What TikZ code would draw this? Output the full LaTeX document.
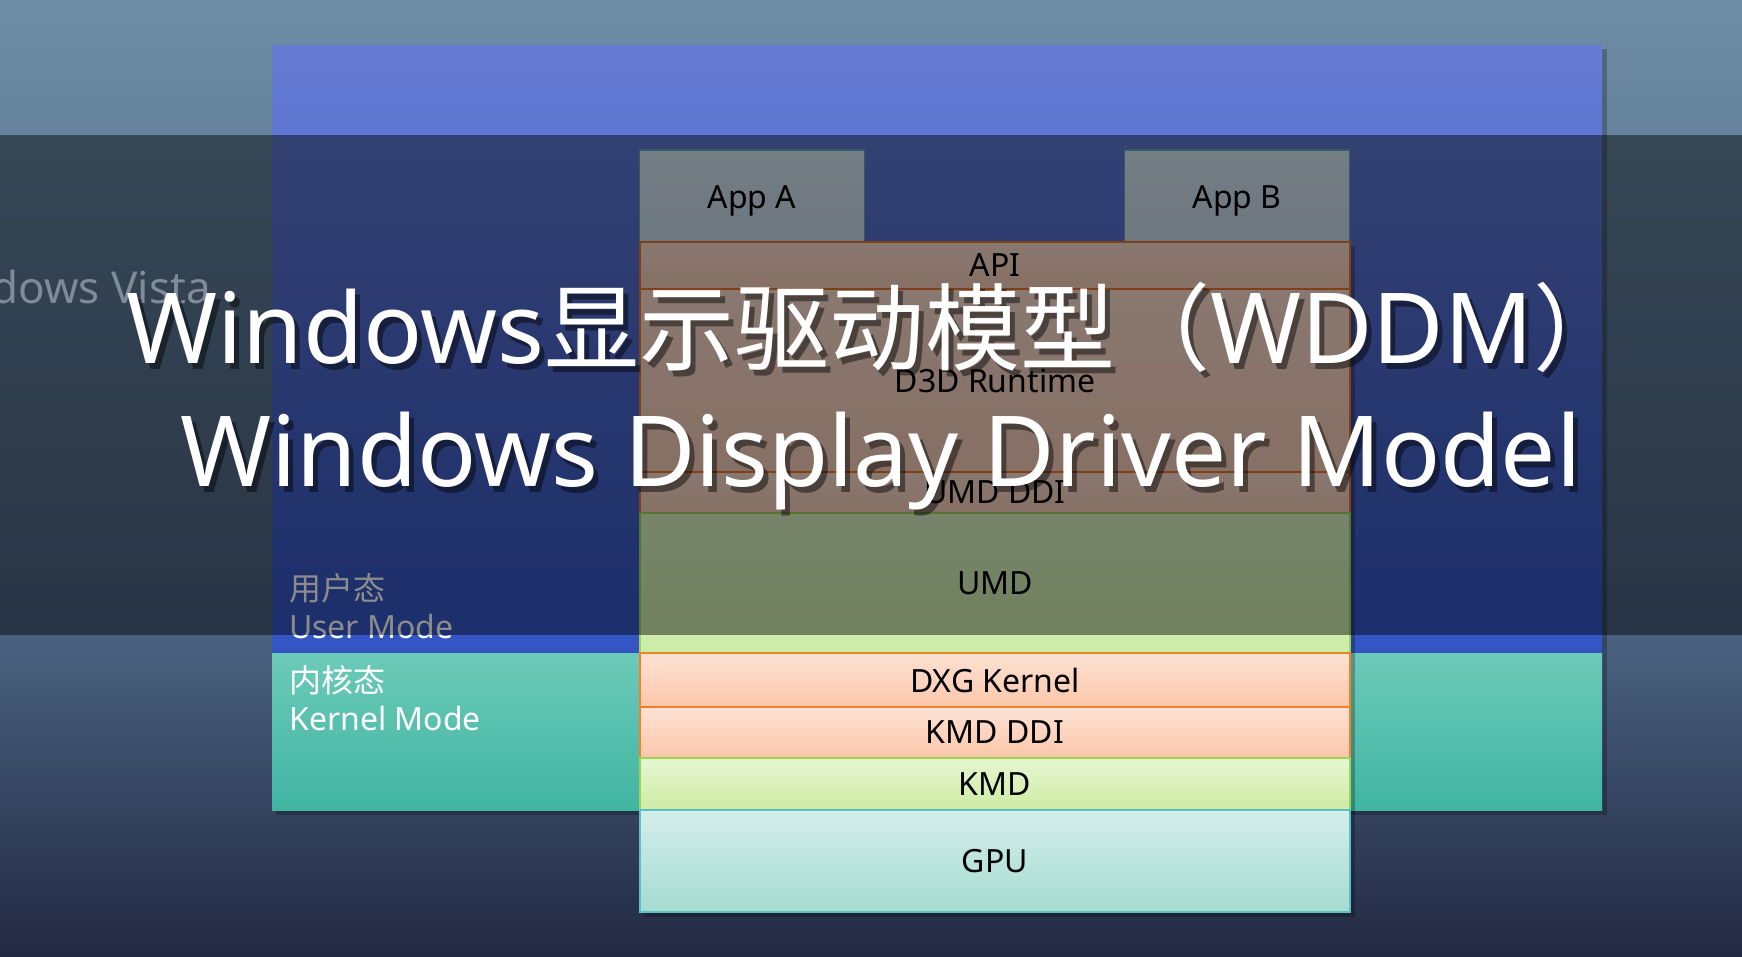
\documentclass[tikz,border=0pt]{standalone}
\usepackage{fontspec}
\setmainfont{Noto Sans}
\newfontfamily\cjk{Noto Sans CJK SC}
\newfontfamily\cjktitle[Scale=0.97]{Noto Sans CJK SC}
\usetikzlibrary{positioning}

\definecolor{bgtop}{HTML}{6E8CA6}
\definecolor{bgmid}{HTML}{48607E}
\definecolor{bgbot}{HTML}{232942}
\definecolor{usertop}{HTML}{667CD4}
\definecolor{userbot}{HTML}{3355C4}
\definecolor{kerntop}{HTML}{6CCAB8}
\definecolor{kernbot}{HTML}{40B5A2}
\definecolor{apptop}{HTML}{D6E6F2}
\definecolor{appbot}{HTML}{C6DAEA}
\definecolor{appline}{HTML}{5AA6C4}
\definecolor{peachtop}{HTML}{FADCCE}
\definecolor{peachbot}{HTML}{F6CCB8}
\definecolor{peachline}{HTML}{E8762A}
\definecolor{orangetop}{HTML}{FDE2D4}
\definecolor{orangebot}{HTML}{FCC6AA}
\definecolor{orangeline}{HTML}{F28224}
\definecolor{limetop}{HTML}{E6F6D2}
\definecolor{limebot}{HTML}{CEEBA2}
\definecolor{limeline}{HTML}{9CD456}
\definecolor{umdtop}{HTML}{DAF2C2}
\definecolor{umdbot}{HTML}{CCECA8}
\definecolor{gputop}{HTML}{D4EEEA}
\definecolor{gpubot}{HTML}{A4DCD0}
\definecolor{gpuline}{HTML}{5CC0C8}
\definecolor{vistagrey}{HTML}{7F8B97}

\pgfdeclareverticalshading{bgshade}{100bp}{color(0bp)=(bgbot); color(25bp)=(bgbot); color(41bp)=(bgmid); color(75bp)=(bgtop); color(100bp)=(bgtop)}

\newcommand{\boxfont}{\fontsize{32}{38}\selectfont}
\newcommand{\modefont}{\fontsize{32}{38}\selectfont}
\newcommand{\titlefont}{\fontsize{98}{112}\selectfont}

\begin{document}
\begin{tikzpicture}[
  x=1pt, y=-1pt,
  layer/.style={draw, line width=1.5pt, minimum width=710pt, inner sep=0pt,
                outer sep=0pt, font=\boxfont, text=black},
  appbox/.style={layer, draw=appline, top color=apptop, bottom color=appbot,
                 minimum width=225pt, minimum height=92pt,
                 text height=33pt, text depth=8pt},
  peach/.style={layer, draw=peachline, top color=peachtop, bottom color=peachbot},
  umdbox/.style={layer, draw=limeline, top color=umdtop, bottom color=umdbot},
  kern/.style={layer, draw=orangeline, line width=2.5pt, top color=orangetop,
               bottom color=orangebot},
  lime/.style={layer, draw=limeline, line width=2pt, top color=limetop,
               bottom color=limebot},
  gpubox/.style={layer, draw=gpuline, top color=gputop, bottom color=gpubot},
  mode/.style={font=\modefont, align=left, anchor=base west, inner sep=0pt},
  title/.style={font=\titlefont, anchor=base west, inner sep=0pt, text=white},
  tshadow/.style={title, text=black, opacity=.45}
]
\useasboundingbox (0,0) rectangle (1742,956);
\clip (0,0) rectangle (1742,956);

% backdrop
\shade[shading=bgshade] (0,0) rectangle (1742,956);

% user / kernel panel
\fill[black, opacity=.25] (276,49) rectangle (1607,815);
\shade[top color=usertop, bottom color=userbot] (272,45) rectangle (1602,653);
\shade[top color=kerntop, bottom color=kernbot] (272,653) rectangle (1602,810);

\node[mode, text=white] (userzh) at (289,600) {{\cjk 用户态}};
\node[mode, text=white] (useren) at (289,638) {User Mode};
\node[mode, text=white] (kernzh) at (289,692) {{\cjk 内核态}};
\node[mode, text=white] (kernen) at (289,730) {Kernel Mode};

% driver stack
\fill[black, opacity=.25] (644,246) rectangle (1355,917);
\node[appbox] (appa) at (752,196) {App A};
\node[appbox] (appb) at (1237,196) {App B};
\node[peach, minimum height=47pt, anchor=north] (api) at (995,242) {API};
\node[peach, minimum height=183pt, below=0pt of api] (d3d) {D3D Runtime};
\node[peach, minimum height=41pt, below=0pt of d3d] (umdddi) {UMD DDI};
\node[umdbox, minimum height=140pt, below=0pt of umdddi] (umd) {UMD};
\node[kern, minimum height=54pt, below=0pt of umd] (dxg) {DXG Kernel};
\node[kern, minimum height=51pt, below=0pt of dxg] (kmdddi) {KMD DDI};
\node[lime, minimum height=52pt, below=0pt of kmdddi] (kmd) {KMD};
\node[gpubox, minimum height=102pt, below=0pt of kmd] (gpu) {GPU};

% dark caption band
\fill[black, opacity=.45] (0,135) rectangle (1742,635);

\node[font=\fontsize{44}{50}\selectfont, text=vistagrey, anchor=base east,
      inner sep=0pt] (vista) at (211,303) {Windows Vista};

% caption
\node[tshadow] (titleoneshd) at (131,369) {Windows{\cjktitle 显示驱动模型（}WDDM{\cjktitle ）}};
\node[title] (titleone) at (126,363) {Windows{\cjktitle 显示驱动模型（}WDDM{\cjktitle ）}};
\node[tshadow] (titletwoshd) at (185,492) {Windows Display Driver Model};
\node[title] (titletwo) at (180,486) {Windows Display Driver Model};
\end{tikzpicture}
\end{document}
